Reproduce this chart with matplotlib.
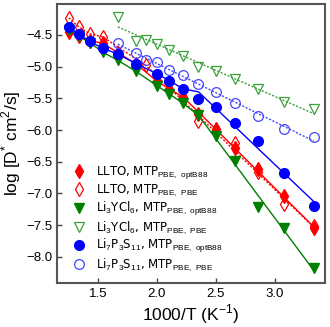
import numpy as np
import matplotlib
matplotlib.use('Agg')
import matplotlib.pyplot as plt
from matplotlib.lines import Line2D

# === Données (log D*) ===
temps_full = [800, 750, 700, 650, 600, 550, 500, 475, 450, 425, 400, 375, 350, 325, 300]
temps_llto_pbe = [800, 750, 700, 650, 525, 425, 375, 350, 325, 300]
temps_pbe = [600, 550, 525, 500, 475, 450, 425, 400, 375, 350, 325, 300]

llto_optb88 = [-4.46, -4.52, -4.59, -4.63, -4.78, -4.95, -5.23, -5.35, -5.48, -5.74, -5.98, -6.29, -6.62, -7.04, -7.55]
llto_pbe = [-4.23, -4.37, -4.48, -4.53, -4.98, -5.85, -6.20, -6.66, -7.16, -7.52]
lyc_optb88 = [-4.42, -4.52, -4.62, -4.77, -4.90, -5.07, -5.30, -5.43, -5.58, -5.77, -6.09, -6.48, -7.21, -7.54, -8.17]
lyc_pbe = [-4.21, -4.59, -4.58, -4.65, -4.74, -4.83, -5.01, -5.07, -5.20, -5.35, -5.55, -5.67]
lps_optb88 = [-4.37, -4.49, -4.60, -4.71, -4.80, -4.95, -5.11, -5.22, -5.35, -5.51, -5.63, -5.89, -6.18, -6.68, -7.20]
lps_pbe = [-4.63, -4.79, -4.90, -4.92, -5.05, -5.13, -5.27, -5.40, -5.58, -5.78, -5.98, -6.11]

labels = [
    r'LLTO, MTP$_{\mathrm{PBE,\ optB88}}$',
    r'LLTO, MTP$_{\mathrm{PBE,\ PBE}}$',
    r'Li$_3$YCl$_6$, MTP$_{\mathrm{PBE,\ optB88}}$',
    r'Li$_3$YCl$_6$, MTP$_{\mathrm{PBE,\ PBE}}$',
    r'Li$_7$P$_3$S$_{11}$, MTP$_{\mathrm{PBE,\ optB88}}$',
    r'Li$_7$P$_3$S$_{11}$, MTP$_{\mathrm{PBE,\ PBE}}$',
]

plt.rcParams['font.family'] = ['Liberation Sans', 'DejaVu Sans']
plt.rcParams['mathtext.fontset'] = 'custom'
plt.rcParams['mathtext.rm'] = 'Liberation Sans'


def courbe_brisee(x, y, x_cut=2.3):
    # points reliés à haute T, ajustement d'Arrhenius à basse T
    x = np.asarray(x)
    y = np.asarray(y)
    haut = x < x_cut
    bas = ~haut
    a, b = np.polyfit(x[bas], y[bas], 1)
    return np.concatenate([x[haut], x[bas]]), np.concatenate([y[haut], a * x[bas] + b])


def droite(x, y):
    x = np.asarray(x)
    a, b = np.polyfit(x, y, 1)
    return x, a * x + b


series = [
    (temps_full, llto_optb88, 'red', 'd', True, courbe_brisee),
    (temps_llto_pbe, llto_pbe, 'red', 'd', False, courbe_brisee),
    (temps_full, lyc_optb88, 'green', 'v', True, courbe_brisee),
    (temps_pbe, lyc_pbe, '#3aa03a', 'v', False, droite),
    (temps_full, lps_optb88, 'blue', 'o', True, courbe_brisee),
    (temps_pbe, lps_pbe, '#4545ff', 'o', False, droite),
]

fig = plt.figure(figsize=(3.30, 3.27), dpi=100)
ax = fig.add_axes([0.173, 0.135, 0.812, 0.853])

handles = []
for (temps, vals, col, mk, plein, fn), lab in zip(series, labels):
    x = 1000.0 / np.array(temps)
    lx, ly = fn(x, vals)
    ax.plot(lx, ly, color=col, lw=1.0, ls='-' if plein else (0, (1.5, 1.2)))
    ms = 7.5 if mk == 'd' else 7
    if plein:
        ax.plot(x, vals, ls='none', marker=mk, ms=ms, color=col, mec=col)
        h = Line2D([], [], ls='none', marker=mk, ms=ms, color=col, mec=col)
    else:
        ax.plot(x, vals, ls='none', marker=mk, ms=ms, mfc='none', mec=col, mew=0.9)
        h = Line2D([], [], ls='none', marker=mk, ms=ms, mfc='none', mec=col, mew=0.9)
    handles.append(h)

ax.set_xlim(1.15, 3.43)
ax.set_ylim(-8.41, -4.01)
ax.set_xticks([1.5, 2.0, 2.5, 3.0])
ax.set_yticks(np.arange(-8.0, -4.4, 0.5))
ax.tick_params(direction='in', labelsize=9.5, length=3.5, width=1.0, color='#444444')
for s in ax.spines.values():
    s.set_linewidth(1.5)
    s.set_color('#555555')

ax.set_xlabel(r'1000/T (K$^{-1}$)', fontsize=12.5, labelpad=2)
ax.set_ylabel(r'log [D$^{*}$ cm$^{2}$/s]', fontsize=12.5, labelpad=2)

ax.legend(handles, labels, loc='lower left', bbox_to_anchor=(0.03, 0.005),
          frameon=False, prop={'family': 'DejaVu Sans', 'size': 8.5},
          handlelength=1.0, handletextpad=0.9,
          labelspacing=0.12, borderaxespad=0.3)

plt.savefig('out.png', dpi=100)
